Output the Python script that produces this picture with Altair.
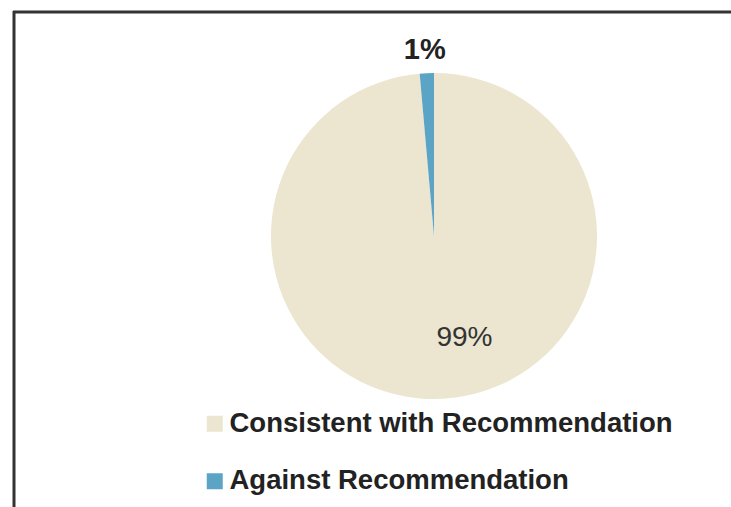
import altair as alt
import pandas as pd
import math

categories = ["Consistent with Recommendation", "Against Recommendation"]
values = [98.6, 1.4]
labels = ["99%", "1%"]
colors = ["#ECE5CF", "#5BA4C6"]

df = pd.DataFrame({
    "category": categories,
    "value": values,
    "label": labels,
    "idx": list(range(len(categories))),
})

W, H = 731, 507
CX, CY, R = 434, 236, 163
FONT = "Liberation Sans"

base = alt.Chart(df)

pie = base.mark_arc(outerRadius=R, stroke=None).encode(
    theta=alt.Theta("value:Q", stack=True),
    order=alt.Order("idx:Q"),
    color=alt.Color(
        "category:N",
        scale=alt.Scale(domain=categories, range=colors),
        sort=categories,
        legend=alt.Legend(
            orient="none", legendX=201, legendY=410, title=None,
            symbolType="square", symbolSize=256, symbolStrokeWidth=0,
            labelFontSize=27.5, labelFont=FONT, labelFontWeight="bold",
            labelColor="#222222", labelOffset=1, rowPadding=28.5,
            labelLimit=600, padding=0,
        ),
    ),
    x=alt.value(CX),
    y=alt.value(CY),
)

def label_layer(cat, radius, bold, size, dx, color):
    return base.transform_window(
        cum="sum(value)", sort=[alt.SortField("idx")], frame=[None, 0]
    ).transform_calculate(
        mid="datum.cum - datum.value / 2"
    ).transform_filter(
        alt.datum.category == cat
    ).mark_text(
        radius=radius, fontSize=size, font=FONT,
        fontWeight="bold" if bold else "normal",
        baseline="middle", align="center", dx=dx, color=color,
    ).encode(
        theta=alt.Theta("mid:Q", stack=False,
                        scale=alt.Scale(domain=[0, sum(values)], range=[0, 2 * math.pi])),
        text="label:N",
        x=alt.value(CX),
        y=alt.value(CY),
    )

lab_small = label_layer(categories[1], 186, True, 29, -1, "#222222")
lab_big = label_layer(categories[0], 102, False, 28, 26, "#333333")

frame_top = alt.Chart(pd.DataFrame({"a": [0]})).mark_rule(
    color="#333333", strokeWidth=3
).encode(x=alt.value(13), x2=alt.value(W), y=alt.value(12))
frame_left = alt.Chart(pd.DataFrame({"a": [0]})).mark_rule(
    color="#333333", strokeWidth=3
).encode(x=alt.value(14), y=alt.value(11), y2=alt.value(H))

chart = alt.layer(pie, lab_small, lab_big, frame_top, frame_left).properties(
    width=W, height=H, padding=0,
    autosize=alt.AutoSizeParams(type="none"),
    background="white",
).configure_view(stroke=None)

chart.save("out.html", embed_options={"renderer": "svg", "actions": False})
